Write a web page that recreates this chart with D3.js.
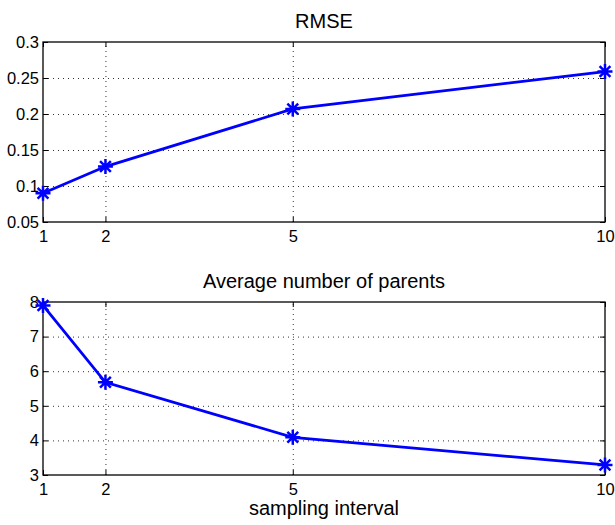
<!DOCTYPE html>
<html>
<head>
<meta charset="utf-8">
<script src="https://cdn.jsdelivr.net/npm/d3@7"></script>
<style>
  body { margin: 0; background: #fff; }
  svg { display: block; font-family: "Liberation Sans", Arial, sans-serif; }
  .grid line { stroke: #333; stroke-dasharray: 1,4; stroke-width: 1; }
  .grid .domain { display: none; }
  .tick-labels .domain, .tick-labels line { display: none; }
  .tick-labels text { font-size: 16.5px; fill: #000; }
  .inner-ticks .domain { display: none; }
  .inner-ticks line { stroke: #000; }
  .title { font-size: 20px; text-anchor: middle; }
</style>
</head>
<body>
<svg width="615" height="525"></svg>
<script>
  const svg = d3.select('svg');

  // data
  const interval = [1, 2, 5, 10];
  const rmse = [0.090, 0.127, 0.207, 0.259];
  const parents = [7.90, 5.68, 4.09, 3.29];

  const xTicks = [1, 2, 5, 10];
  const rmseTicks = [0.05, 0.1, 0.15, 0.2, 0.25, 0.3];
  const parentTicks = [3, 4, 5, 6, 7, 8];

  const left = 43, right = 605;
  const blue = '#0000ff';

  const xScale = d3.scaleLinear().domain([1, 10]).range([left, right]);

  const drawPanel = (top, bottom, yDomain, yTicks, values, title) => {
    const yScale = d3.scaleLinear().domain(yDomain).range([bottom, top]);
    const w = right - left, h = bottom - top;
    const g = svg.append('g');

    // dotted grid
    g.append('g').attr('class', 'grid')
      .attr('transform', `translate(0,${bottom})`)
      .call(d3.axisBottom(xScale).tickValues(xTicks.slice(1, -1)).tickSize(-h).tickFormat(''));
    g.append('g').attr('class', 'grid')
      .attr('transform', `translate(${left},0)`)
      .call(d3.axisLeft(yScale).tickValues(yTicks.slice(1, -1)).tickSize(-w).tickFormat(''));

    // inward ticks on all four sides
    g.append('g').attr('class', 'inner-ticks')
      .attr('transform', `translate(0,${bottom})`)
      .call(d3.axisBottom(xScale).tickValues(xTicks).tickSize(-5).tickFormat(''));
    g.append('g').attr('class', 'inner-ticks')
      .attr('transform', `translate(0,${top})`)
      .call(d3.axisTop(xScale).tickValues(xTicks).tickSize(-5).tickFormat(''));
    g.append('g').attr('class', 'inner-ticks')
      .attr('transform', `translate(${left},0)`)
      .call(d3.axisLeft(yScale).tickValues(yTicks).tickSize(-5).tickFormat(''));
    g.append('g').attr('class', 'inner-ticks')
      .attr('transform', `translate(${right},0)`)
      .call(d3.axisRight(yScale).tickValues(yTicks).tickSize(-5).tickFormat(''));

    // tick labels
    g.append('g').attr('class', 'tick-labels')
      .attr('transform', `translate(0,${bottom})`)
      .call(d3.axisBottom(xScale).tickValues(xTicks).tickSize(0).tickPadding(8).tickFormat(d3.format('d')));
    g.append('g').attr('class', 'tick-labels')
      .attr('transform', `translate(${left},0)`)
      .call(d3.axisLeft(yScale).tickValues(yTicks).tickSize(0).tickPadding(4).tickFormat(d => String(+d.toFixed(2))));

    // frame
    g.append('rect')
      .attr('x', left).attr('y', top).attr('width', w).attr('height', h)
      .attr('fill', 'none').attr('stroke', '#000').attr('stroke-width', 1.3);

    // line
    const lineGenerator = d3.line()
      .x((d, i) => xScale(interval[i]))
      .y(d => yScale(d));
    g.append('path')
      .attr('d', lineGenerator(values))
      .attr('fill', 'none').attr('stroke', blue).attr('stroke-width', 2.8);

    // asterisk markers
    const r = 7.5;
    const k = r * 0.72;
    const star = `M${-r},0H${r}M0,${-r}V${r}M${-k},${-k}L${k},${k}M${-k},${k}L${k},${-k}`;
    g.selectAll('.marker').data(values).join('path')
      .attr('class', 'marker')
      .attr('transform', (d, i) => `translate(${xScale(interval[i])},${yScale(d)})`)
      .attr('d', star)
      .attr('fill', 'none').attr('stroke', blue).attr('stroke-width', 2.5);

    g.append('text').attr('class', 'title')
      .attr('x', (left + right) / 2).attr('y', top - 14)
      .text(title);
  };

  drawPanel(42, 222, [0.05, 0.3], rmseTicks, rmse, 'RMSE');
  drawPanel(302, 475, [3, 8], parentTicks, parents, 'Average number of parents');

  svg.append('text').attr('class', 'title')
    .attr('x', (left + right) / 2).attr('y', 515)
    .text('sampling interval');
</script>
</body>
</html>
